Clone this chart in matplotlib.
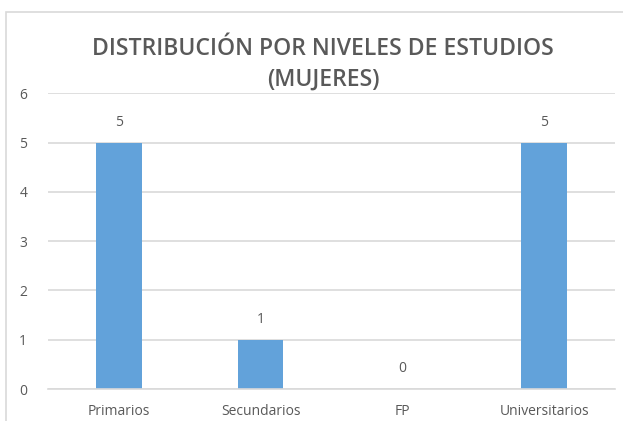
import matplotlib

matplotlib.use("Agg")
import matplotlib.pyplot as plt
from matplotlib.patches import Rectangle

categories = ["Primarios", "Secundarios", "FP", "Universitarios"]
values = [5, 1, 0, 5]
y_ticks = [0, 1, 2, 3, 4, 5, 6]
title = "DISTRIBUCIÓN POR NIVELES DE ESTUDIOS\n(MUJERES)"

text_color = "#595959"
bar_color = "#62A2DA"
grid_color = "#D9D9D9"

plt.rcParams["font.family"] = ["Open Sans", "DejaVu Sans"]

fig = plt.figure(figsize=(6.23, 4.21), dpi=100)
ax = fig.add_axes([0.0770, 0.0760, 0.9102, 0.7024])

# chart frame, running off the right and bottom edges like the screenshot
fig.patches.append(Rectangle((6 / 623, -0.2), 1.2, 1.2 - 12 / 421,
                             transform=fig.transFigure, fill=False,
                             edgecolor="#D9D9D9", linewidth=1.2))

x = range(len(categories))
bars = ax.bar(x, values, width=0.32, color=bar_color, zorder=2)

ax.set_xlim(-0.5, len(categories) - 0.5)
ax.set_ylim(0, 6)
ax.set_yticks(y_ticks)
ax.set_xticks(list(x))
ax.set_xticklabels(categories)
ax.yaxis.grid(True, color=grid_color, linewidth=1.2, zorder=0)
ax.set_axisbelow(True)

for side in ["top", "right", "left"]:
    ax.spines[side].set_visible(False)
ax.spines["bottom"].set_color(grid_color)
ax.spines["bottom"].set_linewidth(1.2)

ax.tick_params(axis="both", length=0, colors=text_color, labelsize=10)
ax.tick_params(axis="x", pad=11)
ax.tick_params(axis="y", pad=15)

for bar, v in zip(bars, values):
    ax.annotate(f"{v}", (bar.get_x() + bar.get_width() / 2, v),
                xytext=(0, 14.5), textcoords="offset points",
                ha="center", va="center", color=text_color, fontsize=10)

fig.text(0.5185, 0.847, title, ha="center", va="center", color=text_color,
         fontsize=16.6, fontweight="semibold", linespacing=1.4)

fig.savefig("out.png", dpi=100)
plt.close(fig)
